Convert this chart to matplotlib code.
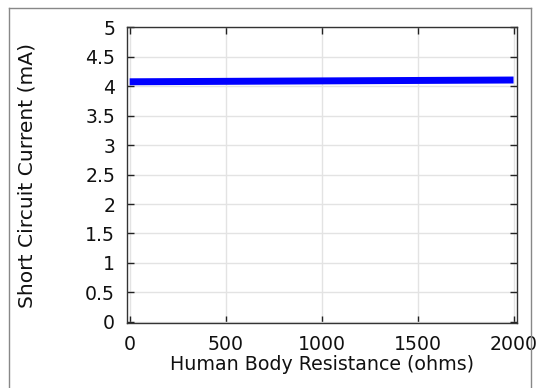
import matplotlib
matplotlib.use("Agg")
import matplotlib.pyplot as plt
from matplotlib.lines import Line2D

resistance = [0, 200, 400, 600, 800, 1000, 1200, 1400, 1600, 1800, 2000]
current = [4.075, 4.078, 4.081, 4.084, 4.087, 4.09, 4.093, 4.096, 4.099, 4.102, 4.105]
xticks = [0, 500, 1000, 1500, 2000]
yticks = [0, 0.5, 1, 1.5, 2, 2.5, 3, 3.5, 4, 4.5, 5]
ytick_labels = ["0", "0.5", "1", "1.5", "2", "2.5", "3", "3.5", "4", "4.5", "5"]

W, H = 536, 388
fig = plt.figure(figsize=(W / 100, H / 100), dpi=100)
ax = fig.add_axes([127 / W, 1 - 323 / H, (517 - 127) / W, (323 - 27) / H])

ax.plot(resistance, current, color="#0000ff", linewidth=5.0, solid_capstyle="butt")
ax.set_xlim(-14, 2018)
ax.set_ylim(-0.02, 5.005)
ax.set_xticks(xticks)
ax.set_yticks(yticks)
ax.set_yticklabels(ytick_labels)
ax.grid(True, color="#e3e3e3", linewidth=1)
ax.set_axisbelow(True)
ax.tick_params(direction="in", length=5, width=1, top=True, right=True,
               labelsize=13.6, colors="#222222", labelcolor="#111111", pad=8.5)
for s in ax.spines.values():
    s.set_color("#333333")
    s.set_linewidth(1)
ax.set_xlabel("Human Body Resistance (ohms)", fontsize=13.7, labelpad=1, color="#111111")
ax.set_ylabel("Short Circuit Current (mA)", fontsize=14.6, color="#111111")
ax.yaxis.set_label_coords(-0.231, 0.5)

# outer frame
fx0, fx1, fy1 = 8.5 / W, 530.5 / W, 1 - 7.5 / H
fig.add_artist(Line2D([fx0, fx0], [0, fy1], transform=fig.transFigure, color="#888888", lw=1))
fig.add_artist(Line2D([fx1, fx1], [0, fy1], transform=fig.transFigure, color="#888888", lw=1))
fig.add_artist(Line2D([fx0, fx1], [fy1, fy1], transform=fig.transFigure, color="#888888", lw=1))

fig.savefig("out.png", dpi=100)
